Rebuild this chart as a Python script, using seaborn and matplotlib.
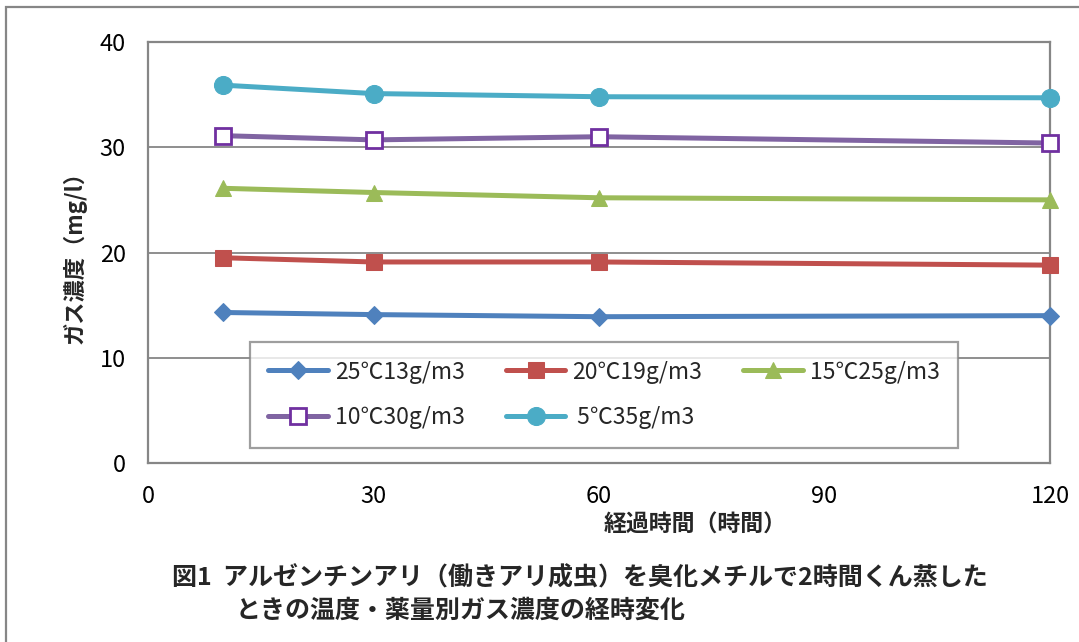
import numpy as np
import pandas as pd
import seaborn as sns
import matplotlib.pyplot as plt
from matplotlib.patches import Rectangle

# 経過時間（時間）
hours = [10, 30, 60, 120]

# ガス濃度（mg/l）、温度・薬量別
conc_25 = [14.3, 14.1, 13.9, 14.0]
conc_20 = [19.5, 19.1, 19.1, 18.8]
conc_15 = [26.1, 25.7, 25.2, 25.0]
conc_10 = [31.1, 30.7, 31.0, 30.4]
conc_5 = [35.9, 35.1, 34.8, 34.7]

labels = ['25℃13g/m3', '20℃19g/m3', '15℃25g/m3', '10℃30g/m3', ' 5℃35g/m3']
series = [conc_25, conc_20, conc_15, conc_10, conc_5]

caption1 = '図1  アルゼンチンアリ（働きアリ成虫）を臭化メチルで2時間くん蒸した'
caption2 = 'ときの温度・薬量別ガス濃度の経時変化'

sns.set_theme(style='white')
plt.rcParams['font.family'] = ['Noto Sans CJK JP', 'DejaVu Sans']

# 系列ごとのスタイル
styles = [
    dict(color='#4F81BD', marker='D', markersize=9, markerfacecolor='#4F81BD', markeredgecolor='#4F81BD'),
    dict(color='#C0504D', marker='s', markersize=11, markerfacecolor='#C0504D', markeredgecolor='#C0504D'),
    dict(color='#9BBB59', marker='^', markersize=12, markerfacecolor='#9BBB59', markeredgecolor='#9BBB59'),
    dict(color='#8064A2', marker='s', markersize=11, markerfacecolor='white', markeredgecolor='#7030A0', markeredgewidth=2),
    dict(color='#4BACC6', marker='o', markersize=13, markerfacecolor='#4BACC6', markeredgecolor='#4BACC6'),
]

fig = plt.figure(figsize=(10.79, 6.42), dpi=100)
ax = fig.add_axes([148 / 1079, 1 - 463 / 642, 902 / 1079, 421 / 642])

for vals, lab, st in zip(series, labels, styles):
    df = pd.DataFrame({'hours': hours, 'conc': vals})
    sns.lineplot(data=df, x='hours', y='conc', ax=ax, label=lab,
                 linewidth=3.6, clip_on=False, zorder=3, **st)

ax.set_xlim(0, 120)
ax.set_ylim(0, 40)
ax.set_xticks([0, 30, 60, 90, 120])
ax.set_yticks([0, 10, 20, 30, 40])
ax.tick_params(axis='both', length=0, labelsize=17, pad=16, colors='black')
ax.grid(axis='y', color='#868686', linewidth=1.3)
ax.grid(axis='x', visible=False)
for sp in ax.spines.values():
    sp.set_color('#868686')
    sp.set_linewidth(1.6)
    sp.set_visible(True)

ax.set_xlabel('経過時間（時間）', fontsize=16.5, fontweight='bold')
ax.xaxis.set_label_coords(0.607, -0.12)
ax.set_ylabel('ガス濃度（mg/l）', fontsize=16, fontweight='bold')
ax.yaxis.set_label_coords(-0.068, 0.5)

# 凡例は行方向に並べる（25,20,15 / 10,5）
handles, labs = ax.get_legend_handles_labels()
order = [0, 3, 1, 4, 2]
leg = ax.legend([handles[i] for i in order], [labs[i] for i in order],
                loc='upper left', bbox_to_anchor=(0.113, 0.287), ncol=3,
                fontsize=16.5, frameon=True, fancybox=False,
                handlelength=2.6, handletextpad=0.3, columnspacing=1.8,
                borderpad=0.8, labelspacing=1.0, borderaxespad=0)
leg.get_frame().set_edgecolor('#868686')
leg.get_frame().set_linewidth(1.6)

# 図の枠
fig.patches.append(Rectangle((6 / 1079, -0.1), 1.2, 1 - 7 / 642 + 0.1,
                             transform=fig.transFigure, fill=False,
                             edgecolor='#868686', linewidth=1.6))

fig.text(172 / 1079, 1 - 578 / 642, caption1, fontsize=18, fontweight='bold',
         ha='left', va='center')
fig.text(236 / 1079, 1 - 611 / 642, caption2, fontsize=18, fontweight='bold',
         ha='left', va='center')

fig.savefig('out.png', dpi=100)
